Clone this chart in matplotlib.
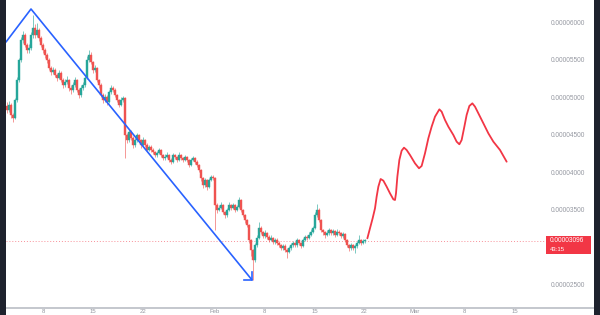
import matplotlib
matplotlib.use("Agg")
import matplotlib.pyplot as plt
from matplotlib.patches import Rectangle
import matplotlib.transforms as mtrans
import numpy as np

# ---------------- data (prices in units of 1e-8) ----------------
first_open = 4900
candle_start_day = 1.96     # day index (0 = Jan 1)
candle_step = 0.28          # days between candles

closes = [4840, 4907, 4774, 4734, 4974, 5240, 5507, 5774, 5840, 5707,
          5640, 5667, 5840, 5934, 5840, 5907, 5800, 5707, 5640, 5574,
          5507, 5400, 5347, 5374, 5307, 5267, 5334, 5240, 5174, 5214,
          5240, 5134, 5107, 5174, 5240, 5107, 5040, 5134, 5174, 5267,
          5507, 5574, 5480, 5374, 5400, 5240, 5174, 5040, 4974, 5014,
          4947, 5080, 5134, 5107, 5040, 4974, 4907, 4974, 5000, 4507,
          4440, 4547, 4467, 4374, 4440, 4507, 4440, 4374, 4440, 4374,
          4307, 4347, 4307, 4280, 4240, 4267, 4307, 4240, 4200, 4214,
          4240, 4174, 4147, 4240, 4214, 4174, 4240, 4200, 4174, 4214,
          4174, 4107, 4174, 4200, 4147, 4107, 4040, 3934, 3840, 3907,
          3814, 3907, 3947, 3934, 3574, 3507, 3534, 3574, 3480, 3440,
          3507, 3574, 3534, 3574, 3507, 3547, 3640, 3507, 3440, 3374,
          3307, 3107, 2974, 2840, 3040, 3134, 3267, 3214, 3160, 3200,
          3147, 3107, 3134, 3080, 3107, 3067, 3040, 3000, 3027, 2974,
          2947, 3000, 3040, 3067, 3040, 3107, 3067, 3027, 3107, 3147,
          3134, 3174, 3214, 3267, 3440, 3507, 3374, 3240, 3214, 3174,
          3200, 3240, 3200, 3227, 3174, 3214, 3200, 3160, 3187, 3107,
          3040, 3000, 3040, 3000, 3027, 3067, 3107, 3067, 3094, 3096]

highs = [4950, 4960, 4930, 4800, 5000, 5280, 5540, 5820, 5900, 5870,
         5740, 5720, 5880, 6107, 5990, 6000, 5940, 5830, 5740, 5670,
         5600, 5530, 5430, 5420, 5400, 5330, 5370, 5360, 5270, 5250,
         5290, 5260, 5170, 5210, 5280, 5260, 5130, 5170, 5210, 5300,
         5560, 5640, 5610, 5500, 5440, 5420, 5260, 5200, 5070, 5050,
         5040, 5110, 5170, 5160, 5130, 5060, 4990, 5010, 5030, 5020,
         4540, 4580, 4570, 4490, 4470, 4540, 4520, 4460, 4480, 4460,
         4400, 4380, 4370, 4330, 4300, 4300, 4340, 4320, 4260, 4250,
         4280, 4260, 4200, 4270, 4260, 4230, 4280, 4260, 4220, 4240,
         4230, 4190, 4200, 4230, 4210, 4170, 4120, 4060, 3950, 3940,
         3920, 3940, 3980, 3970, 3950, 3600, 3570, 3610, 3590, 3500,
         3540, 3610, 3590, 3600, 3590, 3580, 3680, 3650, 3520, 3450,
         3390, 3320, 3120, 2990, 3070, 3170, 3347, 3290, 3230, 3240,
         3220, 3170, 3170, 3150, 3140, 3130, 3090, 3060, 3060, 3050,
         3000, 3030, 3070, 3100, 3080, 3140, 3120, 3080, 3140, 3180,
         3170, 3210, 3250, 3300, 3480, 3587, 3530, 3390, 3260, 3230,
         3240, 3270, 3260, 3260, 3240, 3250, 3240, 3220, 3220, 3200,
         3120, 3060, 3070, 3060, 3060, 3100, 3180, 3120, 3120, 3120]

lows = [4800, 4810, 4740, 4680, 4720, 4950, 5220, 5480, 5740, 5680,
        5600, 5600, 5640, 5800, 5800, 5820, 5760, 5680, 5600, 5540,
        5470, 5370, 5310, 5320, 5280, 5230, 5250, 5210, 5140, 5150,
        5190, 5100, 5060, 5080, 5150, 5080, 5000, 5020, 5110, 5150,
        5250, 5480, 5450, 5340, 5350, 5210, 5140, 5010, 4940, 4950,
        4910, 4930, 5060, 5080, 5010, 4950, 4880, 4890, 4950, 4200,
        4400, 4420, 4440, 4340, 4350, 4420, 4410, 4340, 4360, 4350,
        4280, 4290, 4280, 4250, 4210, 4220, 4250, 4220, 4170, 4180,
        4200, 4150, 4120, 4130, 4190, 4150, 4160, 4180, 4150, 4160,
        4150, 4080, 4090, 4160, 4120, 4080, 4010, 3900, 3800, 3820,
        3780, 3800, 3890, 3910, 3240, 3470, 3490, 3520, 3450, 3400,
        3420, 3490, 3510, 3520, 3480, 3490, 3530, 3480, 3410, 3340,
        3280, 3070, 2900, 2574, 2820, 3020, 3120, 3190, 3130, 3140,
        3120, 3080, 3090, 3050, 3060, 3040, 3010, 2970, 2980, 2950,
        2870, 2930, 2980, 3020, 3010, 3020, 3040, 3000, 3010, 3090,
        3110, 3120, 3160, 3200, 3250, 3420, 3350, 3210, 3180, 3140,
        3160, 3180, 3170, 3180, 3150, 3160, 3180, 3140, 3140, 3080,
        3010, 2960, 2980, 2970, 2940, 3000, 3050, 3040, 3050, 3070]

# trend line drawn on chart (day, price)
trend_days = [1.82, 5.32, 36.26]
trend_prices = [5747, 6187, 2574]
arrow_days = [35.14, 36.26, 36.26]
arrow_prices = [2574, 2574, 2680]

# forecast path (day, price)
fc_days = [52.41, 52.78, 53.15, 53.48, 53.71, 53.95, 54.27, 54.65, 55.11, 55.58,
           56.05, 56.28, 56.42, 56.61, 56.89, 57.21, 57.54, 57.91, 58.38, 59.08,
           59.64, 60.01, 60.48, 60.95, 61.41, 61.88, 62.49, 62.81, 63.28, 63.75,
           64.45, 64.91, 65.29, 65.61, 65.99, 66.31, 66.69, 67.11, 67.48, 67.95,
           68.65, 69.35, 70.05, 70.98, 71.91]
fc_prices = [3129, 3263, 3396, 3529, 3685, 3818, 3920, 3898, 3818, 3729,
             3649, 3640, 3729, 3951, 4174, 4298, 4338, 4307, 4240, 4129,
             4063, 4094, 4263, 4463, 4618, 4751, 4849, 4818, 4707, 4618,
             4507, 4418, 4383, 4440, 4618, 4774, 4894, 4929, 4885, 4796,
             4663, 4529, 4418, 4307, 4151]

last_price = 3096
countdown = "43:15"
price_ticks = [2500, 3500, 4000, 4500, 5000, 5500, 6000]
time_tick_days = [7, 14, 21, 31, 38, 45, 52, 59, 66, 73]
time_tick_labels = ["8", "15", "22", "Feb", "8", "15", "22", "Mar", "8", "15"]

# ---------------- styling ----------------
GREEN = "#26a69a"
RED = "#ef5350"
LINE_RED = "#f23645"
BLUE = "#2962ff"
DARK = "#1e222d"
AXIS_TXT = "#9598a1"

plt.rcParams['font.family'] = ['Liberation Sans', 'DejaVu Sans']

fig = plt.figure(figsize=(6.0, 3.15), dpi=100)
fig.patch.set_facecolor("white")
W, H = 600, 315
ax = fig.add_axes([6 / W, (H - 308) / H, 540 / W, 308 / H])
ax.set_facecolor("white")
ax.set_xlim(1.82, 77.42)
ax.set_ylim(2200, 6307)
for s in ax.spines.values():
    s.set_visible(False)
ax.set_xticks([])
ax.set_yticks([])

# candles
opens = [first_open] + closes[:-1]
n = len(closes)
days = candle_start_day + candle_step * np.arange(n)
o = np.array(opens, float)
c = np.array(closes, float)
hi = np.array(highs, float)
lo = np.array(lows, float)
up = c >= o
cols = np.where(up, GREEN, RED)
ax.vlines(days, lo, hi, colors=cols, linewidth=0.6, alpha=0.7, zorder=2)
bottoms = np.minimum(o, c)
heights = np.maximum(np.abs(c - o), 8)
ax.bar(days, heights, bottom=bottoms, width=candle_step * 0.62,
       color=cols, edgecolor=cols, linewidth=0.3, zorder=3)

# trend line + arrow head
ax.plot(trend_days, trend_prices, color=BLUE, lw=1.2, zorder=4,
        solid_capstyle="round")
ax.plot(arrow_days, arrow_prices, color=BLUE, lw=1.2, zorder=4)

# forecast
ax.plot(fc_days, fc_prices, color=LINE_RED, lw=1.3, zorder=4,
        solid_joinstyle="round", solid_capstyle="round")

# last price line
ax.axhline(last_price, color=LINE_RED, lw=0.7, alpha=0.55,
           ls=(0, (1, 2)), zorder=1)

# price axis labels
trans = mtrans.blended_transform_factory(ax.transAxes, ax.transData)
xlab = (551 - 6) / 540
for p in price_ticks:
    ax.text(xlab, p, f"{p * 1e-8:.8f}", transform=trans, ha="left",
            va="center", fontsize=4.7, color=AXIS_TXT, clip_on=False)

# last price label box
fig.patches.append(Rectangle((546 / W, (H - 254) / H), 45 / W, 18 / H,
                             transform=fig.transFigure, facecolor=LINE_RED,
                             edgecolor="none", zorder=5))
fig.text(550 / W, (H - 241) / H, f"{last_price * 1e-8:.8f}", fontsize=4.7,
         color="white", ha="left", va="center", zorder=6)
fig.text(550 / W, (H - 249.5) / H, countdown, fontsize=4.3,
         color="white", ha="left", va="center", zorder=6)

# bottom axis line
fig.patches.append(Rectangle((6 / W, (H - 309) / H), 588 / W, 1.6 / H,
                             transform=fig.transFigure, facecolor="#c5c8ce",
                             edgecolor="none", zorder=5))
# time tick labels
ttrans = mtrans.blended_transform_factory(ax.transData, fig.transFigure)
for d, lab in zip(time_tick_days, time_tick_labels):
    ax.text(d, 0.8 / H, lab, transform=ttrans, ha="center", va="bottom",
            fontsize=4.3, color=AXIS_TXT, clip_on=False)

# dark side strips
fig.patches.append(Rectangle((0, 0), 6 / W, 1, transform=fig.transFigure,
                             facecolor=DARK, edgecolor="none", zorder=10))
fig.patches.append(Rectangle((594 / W, 0), 6 / W, 1, transform=fig.transFigure,
                             facecolor=DARK, edgecolor="none", zorder=10))

fig.savefig("out.png", dpi=100, facecolor="white")
